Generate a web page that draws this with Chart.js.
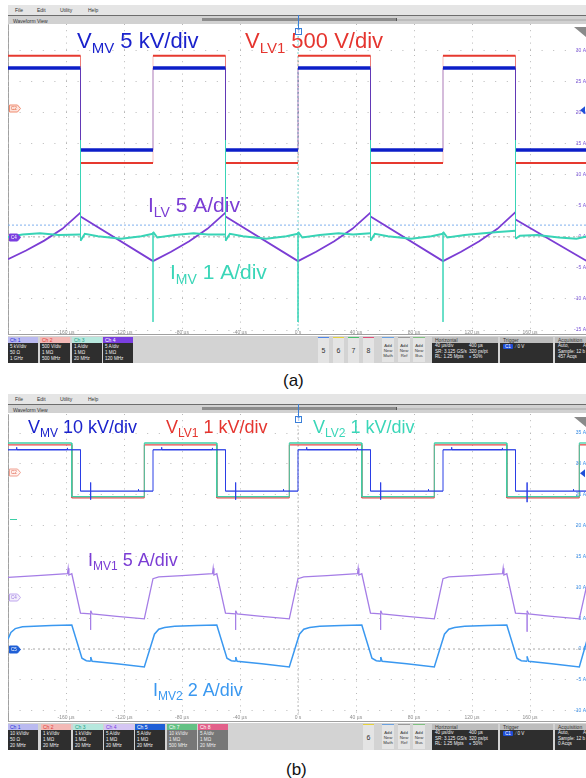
<!DOCTYPE html>
<html lang="en">
<head>
<meta charset="UTF-8">
<title>Oscilloscope captures (a) and (b)</title>
<script src="https://cdn.jsdelivr.net/npm/chart.js"></script>
<style>
  html, body { margin: 0; padding: 0; overflow: hidden; }
  body { width: 586px; height: 778px; position: relative; background: #fff;
         font-family: "Liberation Sans", Arial, sans-serif; }
  .menu { position: absolute; left: 8px; width: 578px; height: 10px; background: #e5e5e5;
          border-bottom: 1px solid #6d6d6d; font-size: 5px; color: #333; }
  .menu span, .wv span { position: absolute; top: 2px; }
  .wv { position: absolute; left: 8px; width: 578px; height: 8px; background: #d1d1d1; font-size: 5px; color: #333; }
  .track { position: absolute; top: 3px; left: 194px; width: 384px; height: 2px; background: #bcbcbc; }
  .thumb { position: absolute; top: 2px; left: 194px; width: 194px; height: 3px; background: #8c8c8c; border-right: 1px solid #555; }
  .frame { position: absolute; left: 8px; width: 578px; border-left: 1px solid #a0a0a0;
           border-bottom: 1px solid #a0a0a0; box-sizing: border-box; }
  canvas { position: absolute; left: 8px; }
  .tline { position: absolute; left: 298px; width: 1px; background: #3a7fd8; }
  .tbox { position: absolute; left: 295px; width: 5px; height: 5px; border: 1px solid #3a7fd8; background: #fff;
          color: #3a7fd8; font-size: 5px; line-height: 5px; text-align: center; }
  .status { position: absolute; left: 8px; width: 578px; height: 27px; background: #d3d3d3; }
  .ch { position: absolute; top: 1px; width: 30px; height: 26px; font-size: 4.6px; line-height: 6px; color: #eee; }
  .ch .hd { height: 6px; padding-left: 2px; font-size: 5px; }
  .ch .bd { height: 20px; padding: 1px 2px; box-sizing: border-box; }
  .btn { position: absolute; top: 1px; width: 11px; height: 25px; background: #e4e4e4; font-size: 7px;
         text-align: center; line-height: 25px; color: #333; border-top: 1px solid; }
  .add { position: absolute; top: 1px; width: 12px; height: 25px; background: #e4e4e4; font-size: 4.3px;
         text-align: center; line-height: 5px; color: #333; border-top: 1px solid; padding-top: 5px; box-sizing: border-box; }
  .info { position: absolute; top: 1px; height: 26px; background: #2e2e2e; color: #eee; font-size: 4.6px; line-height: 5.5px; }
  .info .hd { height: 6px; background: #bdbdbd; color: #333; padding-left: 3px; font-size: 5px; line-height: 6px; }
  .info .row { padding: 0 3px; height: 5.5px; position: relative; }
  .info .row b { font-weight: normal; position: absolute; left: 37px; }
  .cap { position: absolute; font-size: 17px; line-height: 17px; color: #111; }
</style>
</head>
<body>
<!-- panel (a) -->
<div class="menu" style="top:5px"><span style="left:7px">File</span><span style="left:29px">Edit</span><span style="left:52px">Utility</span><span style="left:80px">Help</span></div>
<div class="wv" style="top:16px"><span style="left:5px">Waveform View</span><div class="track"></div><div class="thumb"></div></div>
<div class="frame" style="top:24px;height:311px"></div>
<canvas id="scopeA" width="580" height="312" style="top:24px"></canvas>
<div class="tline" style="top:15px;height:13px"></div>
<div class="tbox" style="top:28px">T</div>
<div class="status" id="statusA" style="top:336px"></div>
<div class="cap" style="left:283px;top:372px">(a)</div>

<!-- panel (b) -->
<div class="menu" style="top:394px"><span style="left:7px">File</span><span style="left:29px">Edit</span><span style="left:52px">Utility</span><span style="left:80px">Help</span></div>
<div class="wv" style="top:405px"><span style="left:5px">Waveform View</span><div class="track"></div><div class="thumb"></div></div>
<div class="frame" style="top:414px;height:308px"></div>
<canvas id="scopeB" width="580" height="307" style="top:414px"></canvas>
<div class="tline" style="top:404px;height:12px"></div>
<div class="tbox" style="top:416px">T</div>
<div class="status" id="statusB" style="top:723px"></div>
<div class="cap" style="left:286px;top:761px">(b)</div>

<script>
// time axis (µs)
const timeMin = -200, timeMax = 200, timeStep = 40;

// ---- (a) values in the units of the right axis (A, Ch4 scale) ----
const aVlv1 = [[-200, 29.2], [-150, 29.2], [-150, 11.9], [-100, 11.9], [-100, 29.2], [-50, 29.2], [-50, 11.9],
  [0, 11.9], [0, 29.2], [50, 29.2], [50, 11.9], [100, 11.9], [100, 29.2], [150, 29.2], [150, 11.9], [200, 11.9]];
const aVmv = [[-200, 27.2], [-150, 27.2], [-150, 14.0], [-100, 14.0], [-100, 27.2], [-50, 27.2], [-50, 14.0],
  [0, 14.0], [0, 27.2], [50, 27.2], [50, 14.0], [100, 14.0], [100, 27.2], [150, 27.2], [150, 14.0], [200, 14.0]];
const aIlv = [[-200, -3.6], [-187.5, -2.2], [-175, -0.6], [-162.5, 1.3], [-150, 3.9], [-150, 3.3], [-100, -3.9],
  [-87.5, -2.4], [-75, -0.7], [-62.5, 1.3], [-50, 3.9], [-50, 3.3], [0, -3.9],
  [12.5, -2.4], [25, -0.7], [37.5, 1.3], [50, 3.9], [50, 3.3], [100, -3.9],
  [112.5, -2.4], [125, -0.7], [137.5, 1.3], [150, 4.0], [150, 2.8], [200, -4.0]];
const aImv = [[-200, 0.0], [-190, 0.4], [-178, 0.6], [-165, 0.3], [-150, 0.4], [-150, 15.6], [-150, -0.6],
  [-147, 0.5], [-138, 0.1], [-122, -0.3], [-108, 0.1], [-100, 0.5], [-100, -13.7], [-100, 0.8],
  [-97, -0.1], [-85, 0.3], [-72, 0.6], [-62, 0.4], [-50, 0.4], [-50, 15.6], [-50, -0.6],
  [-47, 0.5], [-38, 0.1], [-22, -0.3], [-8, 0.1], [0, 0.5], [0, -13.7], [0, 0.8],
  [3, -0.1], [15, 0.3], [28, 0.6], [38, 0.4], [50, 0.6], [50, 15.6], [50, -0.6],
  [53, 0.5], [62, 0.1], [78, -0.3], [92, 0.1], [100, 0.5], [100, -13.7], [100, 0.8],
  [103, -0.1], [115, 0.3], [128, 0.6], [138, 0.8], [150, 1.0], [150, 15.6], [150, -0.3],
  [153, 0.2], [165, 0.3], [180, -0.1], [192, -0.3], [200, 0.1]];
const aZeroLevel = [[-200, 0], [200, 0]];
const aTrigLevel = [[-200, 1.9], [200, 1.9]];

// ---- (b) values in the units of the right axis (A, Ch5 scale) ----
const bVlv1 = [[-200, 33.1], [-156, 33.1], [-156, 24.5], [-106, 24.5], [-106, 33.1], [-56, 33.1], [-56, 24.5],
  [-6, 24.5], [-6, 33.1], [44, 33.1], [44, 24.5], [94, 24.5], [94, 33.1], [144, 33.1], [144, 24.5],
  [194, 24.5], [194, 33.1], [200, 33.1]];
const bVlv2 = [[-200, 33.4], [-156, 33.4], [-156, 24.7], [-106, 24.7], [-106, 33.4], [-56, 33.4], [-56, 24.7],
  [-6, 24.7], [-6, 33.4], [44, 33.4], [44, 24.7], [94, 24.7], [94, 33.4], [144, 33.4], [144, 24.7],
  [194, 24.7], [194, 33.4], [200, 33.4]];
const bVmv = [[-200, 32.3], [-194, 32.3], [-194, 32.7], [-194, 32.3], [-159, 32.3], [-159, 32.6], [-159, 32.3], [-150, 32.3],
  [-150, 25.6], [-143, 25.6], [-143, 27.0], [-143, 24.2], [-143, 25.6], [-110, 25.6], [-110, 25.9], [-110, 25.6], [-100, 25.6],
  [-100, 32.3], [-94, 32.3], [-94, 32.7], [-94, 32.3], [-59, 32.3], [-59, 32.6], [-59, 32.3], [-50, 32.3],
  [-50, 25.6], [-43, 25.6], [-43, 27.0], [-43, 24.2], [-43, 25.6], [-10, 25.6], [-10, 25.9], [-10, 25.6], [0, 25.6],
  [0, 32.3], [6, 32.3], [6, 32.7], [6, 32.3], [41, 32.3], [41, 32.6], [41, 32.3], [50, 32.3],
  [50, 25.6], [57, 25.6], [57, 27.0], [57, 24.2], [57, 25.6], [90, 25.6], [90, 25.9], [90, 25.6], [100, 25.6],
  [100, 32.3], [106, 32.3], [106, 32.7], [106, 32.3], [141, 32.3], [141, 32.6], [141, 32.3], [150, 32.3],
  [150, 25.6], [158, 25.6], [158, 27.0], [158, 23.8], [158, 25.6], [190, 25.6], [190, 25.9], [190, 25.6], [200, 25.6]];
const bImv1 = [[-200, 11.6], [-180, 11.9], [-159, 12.2], [-158.5, 13.1], [-158, 12.0], [-156, 12.2],
  [-150, 5.8], [-143, 5.7], [-143, 3.1], [-143, 6.2], [-142, 5.7], [-125, 5.3], [-106, 4.9],
  [-100, 11.4], [-96, 11.7], [-80, 11.9], [-59, 12.2], [-58.5, 13.1], [-58, 12.0], [-56, 12.2],
  [-50, 5.8], [-43, 5.7], [-43, 3.1], [-43, 6.2], [-42, 5.7], [-25, 5.3], [-6, 4.9],
  [0, 11.4], [4, 11.7], [20, 11.9], [41, 12.2], [41.5, 13.1], [42, 12.0], [44, 12.2],
  [50, 5.8], [57, 5.7], [57, 3.1], [57, 6.2], [58, 5.7], [75, 5.3], [94, 4.9],
  [100, 11.4], [104, 11.7], [120, 11.9], [141, 12.2], [141.5, 13.1], [142, 12.0], [144, 12.2],
  [150, 5.8], [158, 5.7], [158, 2.8], [158, 6.2], [159, 5.7], [175, 5.3], [194, 4.9], [200, 11.2]];
const bImv2 = [[-200, 1.6], [-198, 2.7], [-195, 3.3], [-190, 3.6], [-170, 3.8], [-156, 3.9],
  [-149, -1.5], [-146, -1.9], [-143, -2.0], [-143, -1.3], [-142, -2.0], [-125, -2.4], [-106, -2.9],
  [-99, 2.4], [-96, 3.2], [-92, 3.5], [-85, 3.7], [-70, 3.8], [-56, 3.9],
  [-49, -1.5], [-46, -1.9], [-43, -2.0], [-43, -1.3], [-42, -2.0], [-25, -2.4], [-6, -2.9],
  [1, 2.4], [4, 3.2], [8, 3.5], [15, 3.7], [30, 3.8], [44, 3.9],
  [51, -1.5], [54, -1.9], [57, -2.0], [57, -1.3], [58, -2.0], [75, -2.4], [94, -2.9],
  [101, 2.4], [104, 3.2], [108, 3.5], [115, 3.7], [130, 3.8], [144, 3.9],
  [151, -1.5], [154, -1.9], [158, -2.0], [158, -1.2], [159, -2.0], [175, -2.4], [194, -2.9], [200, 2.0]];
const bZeroLevel = [[-200, 0], [200, 0]];

function pts(arr) { return arr.map(p => ({ x: p[0], y: p[1] })); }
function isEdge(c) { return c.p0.parsed.x === c.p1.parsed.x; }

function trace(data, color, width, edgeColor, edgeWidth) {
  return {
    data: pts(data), borderColor: color, borderWidth: width, pointRadius: 0, fill: false, tension: 0,
    segment: {
      borderColor: c => isEdge(c) ? edgeColor : undefined,
      borderWidth: c => isEdge(c) ? edgeWidth : undefined
    }
  };
}
function refLine(data, color, dash) {
  return { data: pts(data), borderColor: color, borderWidth: 1, borderDash: dash, pointRadius: 0, fill: false };
}

// text labels, channel tags and markers drawn over the traces
const overlayPlugin = {
  id: 'scopeOverlay',
  afterDatasetsDraw(chart, args, opts) {
    const ctx = chart.ctx, ys = chart.scales.y, area = chart.chartArea;
    ctx.save();
    (opts.stubs || []).forEach(s => {
      const py = Math.round(ys.getPixelForValue(s.value)) + 0.5;
      ctx.strokeStyle = s.color; ctx.lineWidth = 1;
      ctx.beginPath(); ctx.moveTo(area.left + 2, py); ctx.lineTo(area.left + 9, py); ctx.stroke();
    });
    (opts.tags || []).forEach(t => {
      const py = Math.round(ys.getPixelForValue(t.value)) + 0.5;
      const x0 = area.left + 1.5;
      ctx.beginPath();
      ctx.moveTo(x0, py - 3.5); ctx.lineTo(x0 + 8, py - 3.5); ctx.lineTo(x0 + 11, py);
      ctx.lineTo(x0 + 8, py + 3.5); ctx.lineTo(x0, py + 3.5); ctx.closePath();
      ctx.fillStyle = t.fill; ctx.fill();
      ctx.strokeStyle = t.stroke; ctx.lineWidth = 1; ctx.stroke();
      ctx.fillStyle = t.text; ctx.font = '4.5px "Liberation Sans"';
      ctx.textBaseline = 'middle'; ctx.textAlign = 'left';
      ctx.fillText(t.label, x0 + 1.5, py + 0.5);
    });
    (opts.arrows || []).forEach(a => {
      const py = ys.getPixelForValue(a.value);
      const xr = area.right - 2;
      ctx.fillStyle = a.color;
      ctx.beginPath(); ctx.moveTo(xr - 6, py); ctx.lineTo(xr - 1, py - 4); ctx.lineTo(xr - 1, py + 4); ctx.closePath(); ctx.fill();
    });
    ctx.fillStyle = '#8a8a8a';
    ctx.beginPath(); ctx.moveTo(area.right - 14, area.top + 3); ctx.lineTo(area.right - 2, area.top + 3);
    ctx.lineTo(area.right - 2, area.top + 13); ctx.closePath(); ctx.fill();
    (opts.labels || []).forEach(l => {
      const big = l.size + 'px "Liberation Sans", Arial, sans-serif';
      const small = Math.round(l.size * 0.66) + 'px "Liberation Sans", Arial, sans-serif';
      ctx.fillStyle = l.color; ctx.textBaseline = 'alphabetic'; ctx.textAlign = 'left';
      let x = l.x;
      ctx.font = big; ctx.fillText(l.main, x, l.y); x += ctx.measureText(l.main).width;
      ctx.font = small; ctx.fillText(l.sub, x, l.y + l.size * 0.22); x += ctx.measureText(l.sub).width;
      ctx.font = big; ctx.fillText(l.rest, x, l.y);
    });
    ctx.restore();
  }
};

function scopeChart(id, datasets, yMin, yMax, axisColor, overlay) {
  return new Chart(document.getElementById(id), {
    type: 'line',
    data: { datasets: datasets },
    options: {
      responsive: false, animation: false, devicePixelRatio: 1, events: [],
      layout: { padding: 0 },
      plugins: { legend: { display: false }, tooltip: { enabled: false }, scopeOverlay: overlay },
      scales: {
        x: {
          type: 'linear', min: timeMin, max: timeMax,
          afterFit: s => { s.height = 6; s.paddingLeft = 0; s.paddingRight = 0; },
          ticks: {
            stepSize: timeStep, autoSkip: false, maxRotation: 0, padding: 0, color: '#8d8d8d',
            font: { size: 5, family: 'Liberation Sans' },
            callback: v => v === 0 ? '0 s' : (Math.abs(v) === 200 ? '' : v + ' µs')
          },
          grid: { color: '#b8b8b8', drawTicks: false },
          border: { display: false, dash: [1, 5.2] }
        },
        y: {
          type: 'linear', position: 'right', min: yMin, max: yMax,
          afterFit: s => { s.width = 0; s.paddingTop = 0; s.paddingBottom = 0; },
          ticks: {
            stepSize: 5, includeBounds: false, mirror: true, padding: -2, color: axisColor,
            font: { size: 5, family: 'Liberation Sans' }, callback: v => v + ' A'
          },
          grid: { color: '#b8b8b8', drawTicks: false },
          border: { display: false, dash: [1, 10.6] }
        }
      }
    },
    plugins: [overlayPlugin]
  });
}

scopeChart('scopeA', [
  trace(aImv, '#38d4b6', 2, '#38d4b6', 1),
  trace(aIlv, '#7b3dd4', 1.8, '#7b3dd4', 1),
  trace(aVmv, '#0c1ec8', 3.5, 'rgba(60,40,200,0.4)', 1),
  trace(aVlv1, '#e6392f', 2, 'rgba(230,57,47,0.3)', 1),
  refLine(aTrigLevel, '#7fb0ee', [2, 2]),
  refLine(aZeroLevel, '#a8a8a8', [2, 3]),
  refLine([[0, -15], [0, 34.3]], 'rgba(70,200,190,0.7)', [2, 2])
], -15, 34.3, '#7b55d8', {
  tags: [
    { label: 'C4', value: 0, fill: '#7b3fe0', stroke: '#7b3fe0', text: '#fff' },
    { label: 'C2', value: 20.8, fill: '#fde3dc', stroke: '#f08c70', text: '#e0603a' }
  ],
  arrows: [{ value: 20.4, color: '#1f4fd8' }],
  labels: [
    { main: 'V', sub: 'MV', rest: ' 5 kV/div', x: 69, y: 24, size: 22, color: '#1a22cc' },
    { main: 'V', sub: 'LV1', rest: ' 500 V/div', x: 237, y: 24, size: 22, color: '#e5352f' },
    { main: 'I', sub: 'LV', rest: ' 5 A/div', x: 140, y: 188, size: 21, color: '#7b3dd4' },
    { main: 'I', sub: 'MV', rest: ' 1 A/div', x: 162, y: 255, size: 21, color: '#3ad6b8' }
  ]
});

scopeChart('scopeB', [
  trace(bVmv, '#2a3ee6', 1.3, '#2a3ee6', 1),
  trace(bVlv2, '#3ccfa6', 1.3, '#3ccfa6', 1),
  trace(bVlv1, '#e6484a', 1.3, '#e6484a', 1),
  trace(bImv1, '#a57de6', 1.3, '#a57de6', 1),
  trace(bImv2, '#3a98f0', 1.5, '#3a98f0', 1),
  refLine(bZeroLevel, '#a8a8a8', [2, 3]),
  refLine([[0, -10.7], [0, 38.1]], '#c4c4c4', [2, 2])
], -10.7, 38.1, '#3a8fe8', {
  tags: [
    { label: 'C2', value: 28.7, fill: '#fff1ee', stroke: '#f0a090', text: '#e0604a' },
    { label: 'C4', value: 8.5, fill: '#f3eefc', stroke: '#c0a8ee', text: '#9a78e0' },
    { label: 'C5', value: 0, fill: '#1f5fd6', stroke: '#1f5fd6', text: '#fff' }
  ],
  stubs: [{ value: 21.1, color: '#3ccfa6' }],
  arrows: [{ value: 28.5, color: '#1f4fd8' }],
  labels: [
    { main: 'V', sub: 'MV', rest: ' 10 kV/div', x: 20, y: 19, size: 18, color: '#1a22cc' },
    { main: 'V', sub: 'LV1', rest: ' 1 kV/div', x: 158, y: 19, size: 18, color: '#e5352f' },
    { main: 'V', sub: 'LV2', rest: ' 1 kV/div', x: 305, y: 19, size: 18, color: '#3ad6b8' },
    { main: 'I', sub: 'MV1', rest: ' 5 A/div', x: 80, y: 152, size: 18, color: '#7b3dd4' },
    { main: 'I', sub: 'MV2', rest: ' 2 A/div', x: 145, y: 282, size: 18, color: '#3a98f0' }
  ]
});

// ---- status bars under each capture ----
const chA = [
  [0, 'Ch 1', '#babaf0', '#2b2bd6', '#2e2e2e', ['5 kV/div', '50 Ω', '1 GHz']],
  [32, 'Ch 2', '#f3b9b6', '#e0403a', '#2e2e2e', ['500 V/div', '1 MΩ', '500 MHz']],
  [64, 'Ch 3', '#b7e8de', '#1f9f86', '#2e2e2e', ['1 A/div', '1 MΩ', '20 MHz']],
  [95, 'Ch 4', '#7a3fe0', '#ffffff', '#2e2e2e', ['5 A/div', '1 MΩ', '120 MHz']]
];
const chB = [
  [0, 'Ch 1', '#babaf0', '#2b2bd6', '#2e2e2e', ['10 kV/div', '50 Ω', '20 MHz']],
  [33, 'Ch 2', '#f3b9b6', '#e0403a', '#2e2e2e', ['1 kV/div', '1 MΩ', '20 MHz']],
  [65, 'Ch 3', '#b7e8de', '#1f9f86', '#2e2e2e', ['1 kV/div', '1 MΩ', '20 MHz']],
  [96, 'Ch 4', '#d5c6f3', '#7a3fe0', '#2e2e2e', ['5 A/div', '1 MΩ', '20 MHz']],
  [127, 'Ch 5', '#1f5fd6', '#ffffff', '#2e2e2e', ['5 A/div', '1 MΩ', '20 MHz']],
  [159, 'Ch 7', '#63c184', '#ffffff', '#777777', ['10 kV/div', '1 MΩ', '500 MHz']],
  [190, 'Ch 8', '#e2608a', '#ffffff', '#777777', ['5 A/div', '1 MΩ', '20 MHz']]
];
const btnA = [[310, '5', '#4f86e8'], [325, '6', '#e6d23c'], [340, '7', '#46c06a'], [355, '8', '#e0507a']];
const btnB = [[355, '6', '#e6d23c']];

function fillStatus(id, chans, btns, acqs) {
  let h = '';
  chans.forEach(c => {
    h += '<div class="ch" style="left:' + c[0] + 'px"><div class="hd" style="background:' + c[2] + ';color:' + c[3] + '">' + c[1] +
      '</div><div class="bd" style="background:' + c[4] + '">' + c[5].join('<br>') + '</div></div>';
  });
  btns.forEach(b => {
    h += '<div class="btn" style="left:' + b[0] + 'px;border-top-color:' + b[2] + '">' + b[1] + '</div>';
  });
  [[374, 'Math', '#6aa0e0'], [390, 'Ref', '#9a9a9a'], [405, 'Bus', '#80c080']].forEach(a => {
    h += '<div class="add" style="left:' + a[0] + 'px;border-top-color:' + a[2] + '">Add<br>New<br>' + a[1] + '</div>';
  });
  h += '<div class="info" style="left:424px;width:66px"><div class="hd">Horizontal</div>' +
    '<div class="row">40 µs/div<b>400 µs</b></div><div class="row">SR: 3.125 GS/s<b>320 ps/pt</b></div>' +
    '<div class="row">RL: 1.25 Mpts<b><span style="color:#6aa0f0">●</span> 50%</b></div></div>';
  h += '<div class="info" style="left:492px;width:53px"><div class="hd">Trigger</div>' +
    '<div class="row" style="padding-top:1px"><span style="background:#1f4fd8;color:#fff;padding:0 2px;border-radius:1px">C1</span>' +
    ' &nbsp;<span style="color:#9aa">⁄</span> 0 V</div></div>';
  h += '<div class="info" style="left:547px;width:40px"><div class="hd">Acquisition</div>' +
    '<div class="row">Auto,<b style="left:28px">A</b></div><div class="row">Sample: 12 b</div><div class="row">' + acqs + '</div></div>';
  document.getElementById(id).innerHTML = h;
}
fillStatus('statusA', chA, btnA, '457 Acqs');
fillStatus('statusB', chB, btnB, '0 Acqs');
</script>
</body>
</html>
